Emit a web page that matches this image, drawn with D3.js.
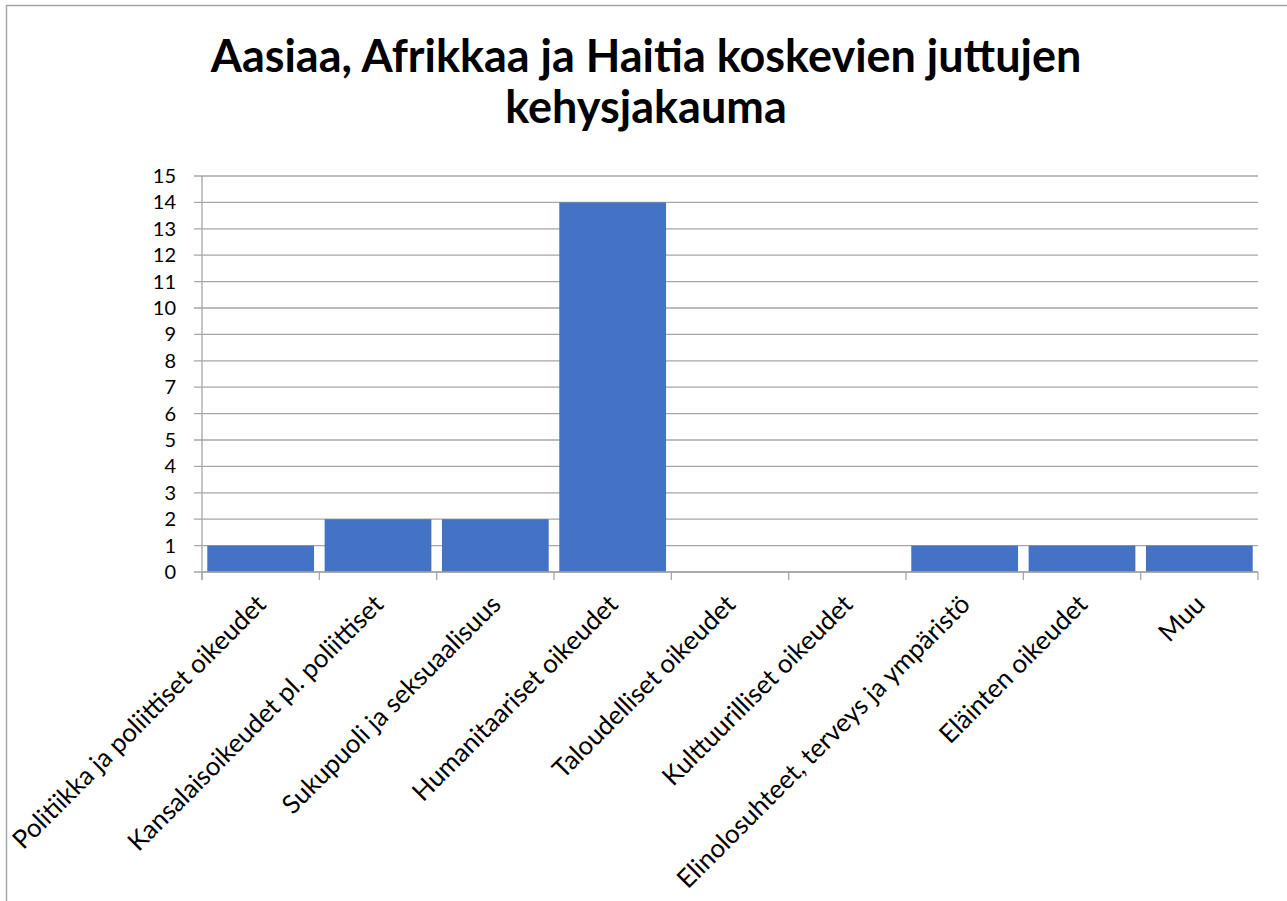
<!DOCTYPE html>
<html>
<head>
<meta charset="utf-8">
<script src="https://cdn.jsdelivr.net/npm/d3@7"></script>
<style>
  body { margin: 0; background: #fff; }
  svg { display: block; }
</style>
</head>
<body>
<div id="chart"></div>
<script>
var svgWidth = 1287;
var svgHeight = 901;

// data
var categories = [
    "Politiikka ja poliittiset oikeudet",
    "Kansalaisoikeudet pl. poliittiset",
    "Sukupuoli ja seksuaalisuus",
    "Humanitaariset oikeudet",
    "Taloudelliset oikeudet",
    "Kulttuurilliset oikeudet",
    "Elinolosuhteet, terveys ja ympäristö",
    "Eläinten oikeudet",
    "Muu"
];
var counts = [1, 2, 2, 14, 0, 0, 1, 1, 1];
var yTicks = d3.range(0, 16);
var titleLines = ["Aasiaa, Afrikkaa ja Haitia koskevien juttujen", "kehysjakauma"];

var margin = { top: 176, right: 29, bottom: 329, left: 202 };
var width = svgWidth - margin.left - margin.right;
var height = svgHeight - margin.top - margin.bottom;

var gridColor = "#a6a6a6";
var barColor = "#4472c4";
var fontFamily = "Lato, 'Open Sans', sans-serif";

var svg = d3.select("#chart")
    .append("svg")
    .attr("width", svgWidth)
    .attr("height", svgHeight);

// chart area border (only left and top visible in the crop)
svg.append("rect")
    .attr("x", 6.5)
    .attr("y", 5.5)
    .attr("width", svgWidth + 20)
    .attr("height", svgHeight + 20)
    .attr("fill", "none")
    .attr("stroke", gridColor)
    .attr("stroke-width", 1.5);

// title, sized so the first line spans what the picture shows
var title = svg.append("g")
    .attr("font-family", fontFamily)
    .attr("font-weight", "bold")
    .attr("text-anchor", "middle")
    .attr("fill", "#000");

var titleText = title.selectAll("text")
    .data(titleLines)
    .enter()
    .append("text")
    .attr("x", 646)
    .attr("y", (d, i) => 72 + i * 51)
    .attr("font-size", 40)
    .text(d => d);

var firstLen = titleText.node().getComputedTextLength();
titleText.attr("font-size", 40 * 871 / firstLen);

var chartGroup = svg.append("g")
    .attr("transform", `translate(${margin.left}, ${margin.top})`);

var xScale = d3.scaleBand()
    .domain(categories)
    .range([0, width])
    .paddingInner(0.09)
    .paddingOuter(0.045);

var yScale = d3.scaleLinear()
    .domain([0, 15])
    .range([height, 0]);

// gridlines with the small tick stub on the left
chartGroup.append("g")
    .selectAll("line")
    .data(yTicks)
    .enter()
    .append("line")
    .attr("x1", -8)
    .attr("x2", width)
    .attr("y1", d => yScale(d))
    .attr("y2", d => yScale(d))
    .attr("stroke", gridColor)
    .attr("stroke-width", 1.3);

// y axis line
chartGroup.append("line")
    .attr("x1", 0)
    .attr("x2", 0)
    .attr("y1", 0)
    .attr("y2", height + 8)
    .attr("stroke", gridColor)
    .attr("stroke-width", 1.3);

// y tick labels
chartGroup.append("g")
    .selectAll("text")
    .data(yTicks)
    .enter()
    .append("text")
    .attr("x", -26)
    .attr("y", d => yScale(d))
    .attr("dy", "0.35em")
    .attr("text-anchor", "end")
    .attr("font-family", fontFamily)
    .attr("font-size", 20)
    .attr("fill", "#000")
    .text(d => d);

// x tick marks at category boundaries
var step = xScale.step();
var bounds = d3.range(categories.length + 1).map(i => i * step);
chartGroup.append("g")
    .selectAll("line")
    .data(bounds)
    .enter()
    .append("line")
    .attr("x1", d => d)
    .attr("x2", d => d)
    .attr("y1", height)
    .attr("y2", height + 8)
    .attr("stroke", gridColor)
    .attr("stroke-width", 1.3);

// bars
chartGroup.append("g")
    .selectAll("rect")
    .data(counts)
    .enter()
    .append("rect")
    .attr("x", (d, i) => xScale(categories[i]))
    .attr("y", d => yScale(d))
    .attr("width", xScale.bandwidth())
    .attr("height", d => height - yScale(d))
    .attr("fill", barColor);

// x axis line on top of bars
chartGroup.append("line")
    .attr("x1", 0)
    .attr("x2", width)
    .attr("y1", height)
    .attr("y2", height)
    .attr("stroke", gridColor)
    .attr("stroke-width", 1.3);

// rotated category labels
var labels = chartGroup.append("g")
    .selectAll("text")
    .data(categories)
    .enter()
    .append("text")
    .attr("transform", d => `translate(${xScale(d) + xScale.bandwidth() / 2 + 7}, ${height + 34}) rotate(-45)`)
    .attr("text-anchor", "end")
    .attr("font-family", fontFamily)
    .attr("font-size", 20)
    .attr("fill", "#000")
    .text(d => d);

var labelLen = labels.node().getComputedTextLength();
labels.attr("font-size", 20 * 346 / labelLen);
</script>
</body>
</html>
